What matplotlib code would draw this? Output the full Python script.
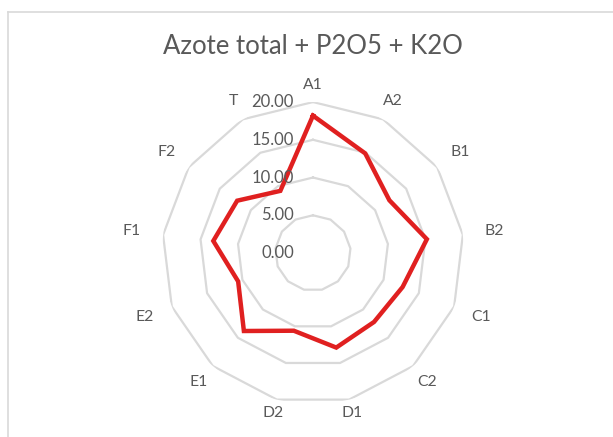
import numpy as np
import matplotlib
matplotlib.use("Agg")
import matplotlib.pyplot as plt
import matplotlib.transforms as mtransforms
from matplotlib.lines import Line2D

categories = ["A1", "A2", "B1", "B2", "C1", "C2", "D1", "D2", "E1", "E2", "F1", "F2", "T"]
values = [18.2, 14.9, 12.3, 15.2, 12.7, 12.2, 12.9, 10.6, 13.8, 10.6, 13.3, 12.2, 9.3]
ring_values = [5, 10, 15, 20]
tick_labels = ["0.00", "5.00", "10.00", "15.00", "20.00"]
tick_values = [0, 5, 10, 15, 20]
title = "Azote total + P2O5 + K2O"

plt.rcParams['font.family'] = ['Lato', 'DejaVu Sans']
text_color = "#595959"
grid_color = "#D9D9D9"
line_color = "#E02020"

fig = plt.figure(figsize=(6.13, 4.37), dpi=100)
fig.patch.set_facecolor("white")

# chart border (top and left visible)
fig.add_artist(Line2D([8/613, 8/613], [0, 1 - 12/437], transform=fig.transFigure,
                      color="#D9D9D9", lw=1.2))
fig.add_artist(Line2D([8/613, 1], [1 - 12/437, 1 - 12/437], transform=fig.transFigure,
                      color="#D9D9D9", lw=1.2))

ax = fig.add_axes([0.2642, 0.0755, 0.4927, 0.691], projection="polar")
ax.set_theta_zero_location("N")
ax.set_theta_direction(-1)
ax.set_ylim(0, 20)
ax.grid(False)
ax.set_xticks([])
ax.set_yticks([])
ax.spines["polar"].set_visible(False)
ax.patch.set_alpha(0)

n = len(categories)
angles = np.arange(n) * 2 * np.pi / n
closed_angles = np.append(angles, angles[0])

for rv in ring_values:
    ax.plot(closed_angles, [rv] * (n + 1), color=grid_color, lw=1.6, zorder=1)

ax.plot(closed_angles, values + values[:1], color=line_color, lw=3.2, zorder=3,
        solid_joinstyle="miter")

# category labels
for ang, cat in zip(angles, categories):
    r = 22.0 + 2.2 * np.sin(ang) ** 2 + 0.25 * np.cos(ang)
    ax.text(ang, r, cat, ha="center", va="center", fontsize=11.3, color=text_color,
            clip_on=False)

# value axis labels
offset = mtransforms.offset_copy(ax.transData, fig=fig, x=-19, y=0, units="dots")
for tv, tl in zip(tick_values, tick_labels):
    ax.text(0, tv, tl, transform=offset, ha="right", va="center", fontsize=12,
            color=text_color, clip_on=False, zorder=4)

fig.text(312.5/613, 1 - 53.5/437, title, ha="center", va="baseline", fontsize=18.5,
         color=text_color)

fig.savefig("out.png", dpi=100, facecolor="white")
